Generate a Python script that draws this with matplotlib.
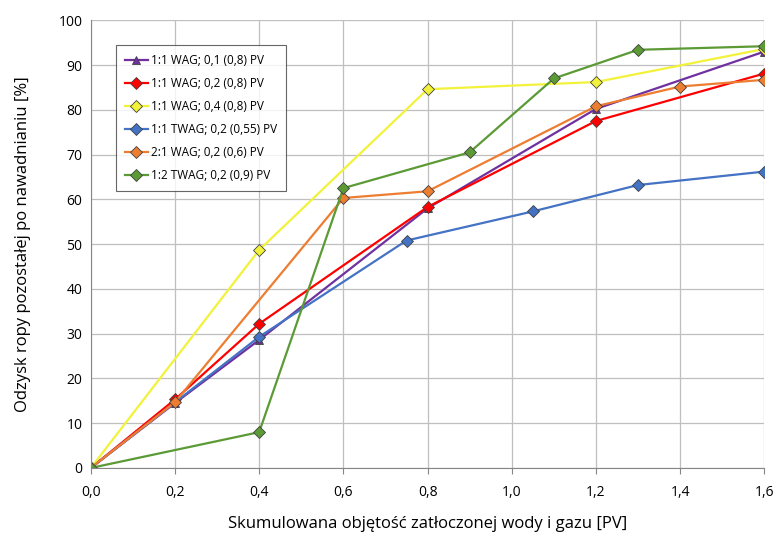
import matplotlib
matplotlib.use("Agg")
import matplotlib.pyplot as plt

plt.rcParams['font.family'] = ['Open Sans', 'DejaVu Sans']

# 1:1 WAG; 0,1 (0,8) PV
wag01_x = [0.0, 0.2, 0.4, 0.8, 1.2, 1.6]
wag01_y = [0.0, 14.5, 28.6, 58.0, 80.2, 93.0]
# 1:1 WAG; 0,2 (0,8) PV
wag02_x = [0.0, 0.2, 0.4, 0.8, 1.2, 1.6]
wag02_y = [0.0, 15.3, 32.2, 58.3, 77.5, 88.1]
# 1:1 WAG; 0,4 (0,8) PV
wag04_x = [0.0, 0.4, 0.8, 1.2, 1.6]
wag04_y = [0.0, 48.7, 84.6, 86.2, 93.6]
# 1:1 TWAG; 0,2 (0,55) PV
twag_x = [0.0, 0.4, 0.75, 1.05, 1.3, 1.6]
twag_y = [0.0, 29.3, 50.8, 57.3, 63.2, 66.2]
# 2:1 WAG; 0,2 (0,6) PV
wag21_x = [0.0, 0.2, 0.6, 0.8, 1.2, 1.4, 1.6]
wag21_y = [0.0, 14.7, 60.3, 61.8, 80.8, 85.2, 86.7]
# 1:2 TWAG; 0,2 (0,9) PV
twag12_x = [0.0, 0.4, 0.6, 0.9, 1.1, 1.3, 1.6]
twag12_y = [0.0, 8.0, 62.5, 70.5, 87.0, 93.4, 94.2]

series = [
    (wag01_x, wag01_y, '1:1 WAG; 0,1 (0,8) PV', '#7030a0', '^'),
    (wag02_x, wag02_y, '1:1 WAG; 0,2 (0,8) PV', '#ff0000', 'D'),
    (wag04_x, wag04_y, '1:1 WAG; 0,4 (0,8) PV', '#f2f23a', 'D'),
    (twag_x, twag_y, '1:1 TWAG; 0,2 (0,55) PV', '#4472c4', 'D'),
    (wag21_x, wag21_y, '2:1 WAG; 0,2 (0,6) PV', '#ed7d31', 'D'),
    (twag12_x, twag12_y, '1:2 TWAG; 0,2 (0,9) PV', '#5b9a35', 'D'),
]

fig = plt.figure(figsize=(7.76, 5.33), dpi=100)
ax = fig.add_axes([0.117, 0.122, 0.868, 0.840])

for x, y, label, color, m in series:
    ax.plot(x, y, color=color, lw=1.6, marker=m, markersize=6,
            markerfacecolor=color, markeredgecolor='#404040', markeredgewidth=0.6,
            label=label)

ax.set_xlim(0, 1.6)
ax.set_ylim(0, 100)
ax.set_xticks([0, 0.2, 0.4, 0.6, 0.8, 1.0, 1.2, 1.4, 1.6])
ax.set_xticklabels(['0,0', '0,2', '0,4', '0,6', '0,8', '1,0', '1,2', '1,4', '1,6'])
ax.set_yticks(range(0, 101, 10))
ax.grid(True, color='#bfbfbf', lw=0.9)
ax.set_axisbelow(True)
for side in ['top', 'right']:
    ax.spines[side].set_visible(False)
ax.spines['left'].set_color('#868686')
ax.spines['bottom'].set_color('#868686')
ax.tick_params(axis='both', labelsize=10, color='#868686', length=4)
ax.tick_params(axis='x', pad=8)
ax.tick_params(axis='y', length=0, pad=6)

ax.set_xlabel('Skumulowana objętość zatłoczonej wody i gazu [PV]', fontsize=12, labelpad=12)
ax.set_ylabel('Odzysk ropy pozostałej po nawadnianiu [%]', fontsize=12, labelpad=20)

leg = ax.legend(loc='upper left', bbox_to_anchor=(0.037, 0.945), fontsize=8.5,
                frameon=True, fancybox=False, edgecolor='#404040',
                handlelength=2.0, handletextpad=0.2, labelspacing=0.85,
                borderpad=0.75, borderaxespad=0)
leg.get_frame().set_linewidth(0.8)

fig.savefig('out.png', dpi=100)
